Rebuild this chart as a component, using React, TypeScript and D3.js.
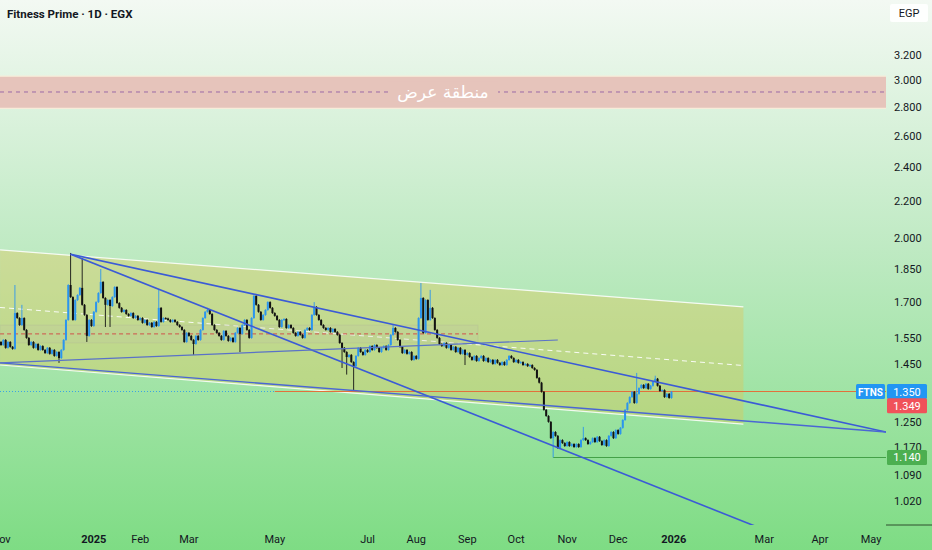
import React from 'react';
import * as d3 from 'd3';

// ---------- data ----------
const closes = [
  1.521,1.541,1.510,1.533,1.514,1.506,1.651,1.630,1.601,1.630,
  1.581,1.549,1.521,1.533,1.510,1.525,1.502,1.517,1.502,1.490,
  1.510,1.487,1.502,1.479,1.494,1.471,1.502,1.541,1.622,1.774,
  1.720,1.622,1.707,1.729,1.761,1.686,1.643,1.557,1.622,1.597,
  1.656,1.698,1.738,1.788,1.716,1.686,1.707,1.681,1.720,1.765,
  1.694,1.673,1.656,1.664,1.647,1.639,1.651,1.630,1.639,1.622,
  1.630,1.610,1.622,1.601,1.610,1.593,1.614,1.597,1.673,1.614,
  1.630,1.628,1.622,1.614,1.622,1.614,1.601,1.593,1.581,1.533,
  1.569,1.557,1.541,1.525,1.557,1.541,1.581,1.630,1.656,1.664,
  1.647,1.601,1.581,1.569,1.557,1.541,1.577,1.557,1.537,1.549,
  1.533,1.569,1.589,1.565,1.601,1.622,1.581,1.549,1.630,1.725,
  1.686,1.656,1.622,1.643,1.664,1.698,1.673,1.651,1.639,1.622,
  1.593,1.622,1.626,1.589,1.601,1.589,1.569,1.557,1.573,1.561,
  1.549,1.581,1.589,1.581,1.643,1.677,1.643,1.622,1.601,1.589,
  1.581,1.589,1.573,1.585,1.573,1.561,1.529,1.510,1.494,1.475,
  1.483,1.456,1.441,1.479,1.510,1.494,1.483,1.502,1.494,1.517,
  1.502,1.521,1.510,1.494,1.510,1.517,1.502,1.521,1.561,1.589,
  1.573,1.541,1.514,1.490,1.502,1.487,1.494,1.464,1.479,1.468,
  1.630,1.716,1.569,1.707,1.622,1.673,1.630,1.581,1.549,1.525,
  1.517,1.529,1.510,1.521,1.502,1.514,1.494,1.510,1.487,1.502,
  1.483,1.490,1.475,1.464,1.479,1.460,1.471,1.479,1.460,1.471,
  1.456,1.464,1.449,1.464,1.453,1.445,1.456,1.445,1.464,1.479,
  1.471,1.456,1.464,1.453,1.456,1.445,1.449,1.441,1.445,1.434,
  1.427,1.398,1.381,1.349,1.288,1.268,1.249,1.198,1.217,1.205,
  1.168,1.192,1.183,1.174,1.186,1.174,1.180,1.171,1.180,1.171,
  1.192,1.198,1.192,1.180,1.186,1.198,1.186,1.202,1.189,1.177,
  1.192,1.174,1.205,1.217,1.198,1.223,1.211,1.230,1.255,1.288,
  1.311,1.331,1.349,1.311,1.342,1.362,1.373,1.362,1.377,1.359,
  1.370,1.384,1.395,1.370,1.352,1.355,1.331,1.342,1.328,1.349,
];
const firstOpen = 1.533;
const highSpikes: [number, number][] = [
  [6, 1.774], [9, 1.686], [30, 1.926], [35, 1.901], [43, 1.848], [68, 1.752],
  [89, 1.673], [135, 1.698], [169, 1.601], [181, 1.783], [185, 1.752],
  [251, 1.233], [274, 1.416], [282, 1.406],
];
const lowSpikes: [number, number][] = [
  [25, 1.453], [37, 1.533], [45, 1.593], [47, 1.593], [83, 1.483], [103, 1.494],
  [147, 1.434], [149, 1.410], [152, 1.355], [200, 1.445], [238, 1.140],
];

const priceTicks = [3.2, 3.0, 2.8, 2.6, 2.4, 2.2, 2.0, 1.85, 1.7, 1.55, 1.45, 1.35, 1.25, 1.17, 1.09, 1.02];
const timeLabels = ['Nov', '2025', 'Feb', 'Mar', 'May', 'Jul', 'Aug', 'Sep', 'Oct', 'Nov', 'Dec', '2026', 'Mar', 'Apr', 'May'];
const timeLabelBars = [0, 40, 60, 81, 118, 158, 179, 201, 222, 244, 266, 290, 329, 353, 375];
const yearLabels = ['2025', '2026'];

const supplyZone = [2.79, 3.03];
const supplyMid = 2.91;
const supplyText = 'منطقة عرض';

const channelTop: [number, number][] = [[-0.4, 1.941], [320, 1.677]];
const channelBottom: [number, number][] = [[-0.4, 1.445], [320, 1.242]];
const trendUpper: [number, number][] = [[30, 1.92], [381.5, 1.217]];
const trendSteep: [number, number][] = [[30, 1.92], [330, 0.945]];
const trendLower: [number, number][] = [[-0.4, 1.453], [381.5, 1.217]];
const supportLine: [number, number][] = [[-0.4, 1.453], [240, 1.541]];
const rangeBoxBars = [-0.4, 205.6];
const rangeBoxPrices = [1.601, 1.529];
const rangeBoxMid = 1.565;

const symbolPrice = 1.350;
const lastPrice = 1.349;
const resistanceStartBar = 118;
const lowLevel = 1.140;
const lowLevelStartBar = 238;

// ---------- layout ----------
const W = 932;
const H = 550;
const PANE_R = 886;
const PANE_B = 525;
const FONT = 'Roboto, "DejaVu Sans", sans-serif';

export default function App() {
  const x = d3.scaleLinear().domain([0, 380]).range([1, 882.6]);
  const y = d3.scaleLog().domain([3.684, 0.9588]).range([0, PANE_B]);

  const hiMap = new Map(highSpikes);
  const loMap = new Map(lowSpikes);
  const candles = closes.map((c, i) => {
    const o = i === 0 ? firstOpen : closes[i - 1];
    const hi = Math.max(o, c, hiMap.get(i) ?? 0);
    const lo = Math.min(o, c, loMap.get(i) ?? 99);
    return { i, o, c, hi, lo };
  });

  const seg = (p: [number, number][]) => ({ x1: x(p[0][0]), y1: y(p[0][1]), x2: x(p[1][0]), y2: y(p[1][1]) });
  const ct = seg(channelTop);
  const cb = seg(channelBottom);
  const chanPoly = `${ct.x1},${ct.y1} ${ct.x2},${ct.y2} ${cb.x2},${cb.y2} ${cb.x1},${cb.y1}`;
  const mid = { x1: ct.x1, y1: (ct.y1 + cb.y1) / 2, x2: ct.x2, y2: (ct.y2 + cb.y2) / 2 };

  const lines = [
    { s: seg(trendUpper), c: '#3b5bd6', w: 1.6 },
    { s: seg(trendSteep), c: '#3b5bd6', w: 1.6 },
    { s: seg(trendLower), c: '#4a66d4', w: 1.4 },
    { s: seg(supportLine), c: '#5a72c8', w: 1.1 },
  ];

  const zTop = y(supplyZone[1]);
  const zBot = y(supplyZone[0]);
  const zMid = y(supplyMid);
  const resY = Math.round(y(symbolPrice)) - 0.5;

  const axisLabel = (price: number, bg: string, text: string) => {
    const cy = y(price);
    return (
      <g>
        <rect x={887} y={cy - 7.5} width={40} height={15} fill={bg} rx={1.5} />
        <text x={907} y={cy + 4} fontSize={11} fill="#fff" textAnchor="middle" fontFamily={FONT}>{text}</text>
      </g>
    );
  };

  return (
    <svg width={W} height={H} style={{ position: 'fixed', left: 0, top: 0 }} xmlns="http://www.w3.org/2000/svg">
      <defs>
        <linearGradient id="bg" x1="0" y1="0" x2="0" y2="1">
          <stop offset="0" stopColor="#f3f9f3" />
          <stop offset="0.45" stopColor="#bfeac3" />
          <stop offset="1" stopColor="#7edc84" />
        </linearGradient>
        <clipPath id="pane"><rect x={0} y={0} width={PANE_R} height={PANE_B} /></clipPath>
      </defs>
      <rect x={0} y={0} width={W} height={H} fill="url(#bg)" />

      <g clipPath="url(#pane)">
        {/* supply zone */}
        <rect x={0} y={zTop} width={PANE_R} height={zBot - zTop} fill="#e6c4bb" />
        <line x1={0} x2={PANE_R} y1={zTop} y2={zTop} stroke="#f7ecd9" strokeWidth={1.2} />
        <line x1={0} x2={PANE_R} y1={zBot} y2={zBot} stroke="#f7ecd9" strokeWidth={1.2} />
        <line x1={0} x2={PANE_R} y1={zMid} y2={zMid} stroke="#9a6aa6" strokeWidth={1} strokeDasharray="4,4" />
        <rect x={388} y={zMid - 10} width={110} height={20} fill="#e6c4bb" />
        <text x={443} y={zMid + 6} fontSize={17} fill="#ffffff" textAnchor="middle" fontFamily='"DejaVu Sans", sans-serif'>{supplyText}</text>

        {/* parallel channel */}
        <polygon points={chanPoly} fill="rgba(226,196,84,0.38)" />
        <line {...ct} stroke="rgba(255,255,255,0.85)" strokeWidth={1.2} />
        <line {...cb} stroke="rgba(255,255,255,0.85)" strokeWidth={1.2} />
        <line {...mid} stroke="rgba(255,255,255,0.9)" strokeWidth={1} strokeDasharray="5,4" />

        {/* range box */}
        <rect x={x(rangeBoxBars[0])} y={y(rangeBoxPrices[0])} width={x(rangeBoxBars[1]) - x(rangeBoxBars[0])}
          height={y(rangeBoxPrices[1]) - y(rangeBoxPrices[0])} fill="rgba(190,190,170,0.18)" stroke="rgba(170,170,150,0.25)" strokeWidth={0.8} />
        <line x1={x(rangeBoxBars[0])} x2={x(rangeBoxBars[1])} y1={y(rangeBoxMid)} y2={y(rangeBoxMid)}
          stroke="#d0524a" strokeWidth={1} strokeDasharray="4,3" />

        {/* price lines */}
        <line x1={0} x2={x(resistanceStartBar)} y1={resY} y2={resY} stroke="#2196f3" strokeWidth={1} strokeDasharray="1,2" opacity={0.8} />
        <line x1={x(resistanceStartBar)} x2={PANE_R} y1={resY} y2={resY} stroke="#e2703c" strokeWidth={1.2} />
        <line x1={x(lowLevelStartBar)} x2={PANE_R} y1={y(lowLevel)} y2={y(lowLevel)} stroke="#43a047" strokeWidth={1} />

        {/* candles */}
        {candles.map(d => {
          const up = d.c >= d.o;
          const col = up ? '#2b95ee' : '#121212';
          const yTop = y(Math.max(d.o, d.c));
          const yBot = y(Math.min(d.o, d.c));
          const cx = x(d.i);
          return (
            <g key={d.i}>
              <line x1={cx} x2={cx} y1={Math.min(y(d.hi), yTop - 0.8)} y2={Math.max(y(d.lo), yBot + 0.8)} stroke={col} strokeWidth={0.9} />
              <rect x={cx - 1} y={yTop} width={2} height={Math.max(1.2, yBot - yTop)} fill={col} />
            </g>
          );
        })}

        {/* trend lines */}
        {lines.map((l, k) => (
          <line key={k} {...l.s} stroke={l.c} strokeWidth={l.w} />
        ))}
      </g>

      {/* title */}
      <text x={7} y={18} fontSize={11.5} fontWeight="bold" fill="#131722" fontFamily={FONT}>Fitness Prime · 1D · EGX</text>

      {/* currency box */}
      <rect x={890} y={4} width={38} height={18} fill="rgba(255,255,255,0.92)" rx={2} />
      <text x={909} y={17} fontSize={11} fill="#131722" textAnchor="middle" fontFamily={FONT}>EGP</text>

      {/* price axis ticks */}
      {priceTicks.map(p => (
        <text key={p} x={894} y={y(p) + 4} fontSize={11} fill="#131722" fontFamily={FONT}>{d3.format('.3f')(p)}</text>
      ))}

      {/* price labels */}
      <rect x={856} y={y(symbolPrice) - 7.5} width={29} height={15} fill="#2196f3" rx={1.5} />
      <text x={870.5} y={y(symbolPrice) + 4} fontSize={10} fontWeight="bold" fill="#fff" textAnchor="middle" fontFamily={FONT}>FTNS</text>
      {axisLabel(symbolPrice, '#2196f3', '1.350')}
      <g transform="translate(0,14)">{axisLabel(lastPrice, '#f0525a', '1.349')}</g>
      {axisLabel(lowLevel, '#4caf50', '1.140')}

      {/* time axis */}
      <line x1={PANE_R} x2={W} y1={PANE_B} y2={PANE_B} stroke="#2f4f2f" strokeWidth={1} />
      {timeLabels.map((t, k) => (
        <text key={k} x={x(timeLabelBars[k])} y={543} fontSize={11} fill="#131722" textAnchor="middle"
          fontWeight={yearLabels.includes(t) ? 'bold' : 'normal'} fontFamily={FONT}>{t}</text>
      ))}
    </svg>
  );
}
